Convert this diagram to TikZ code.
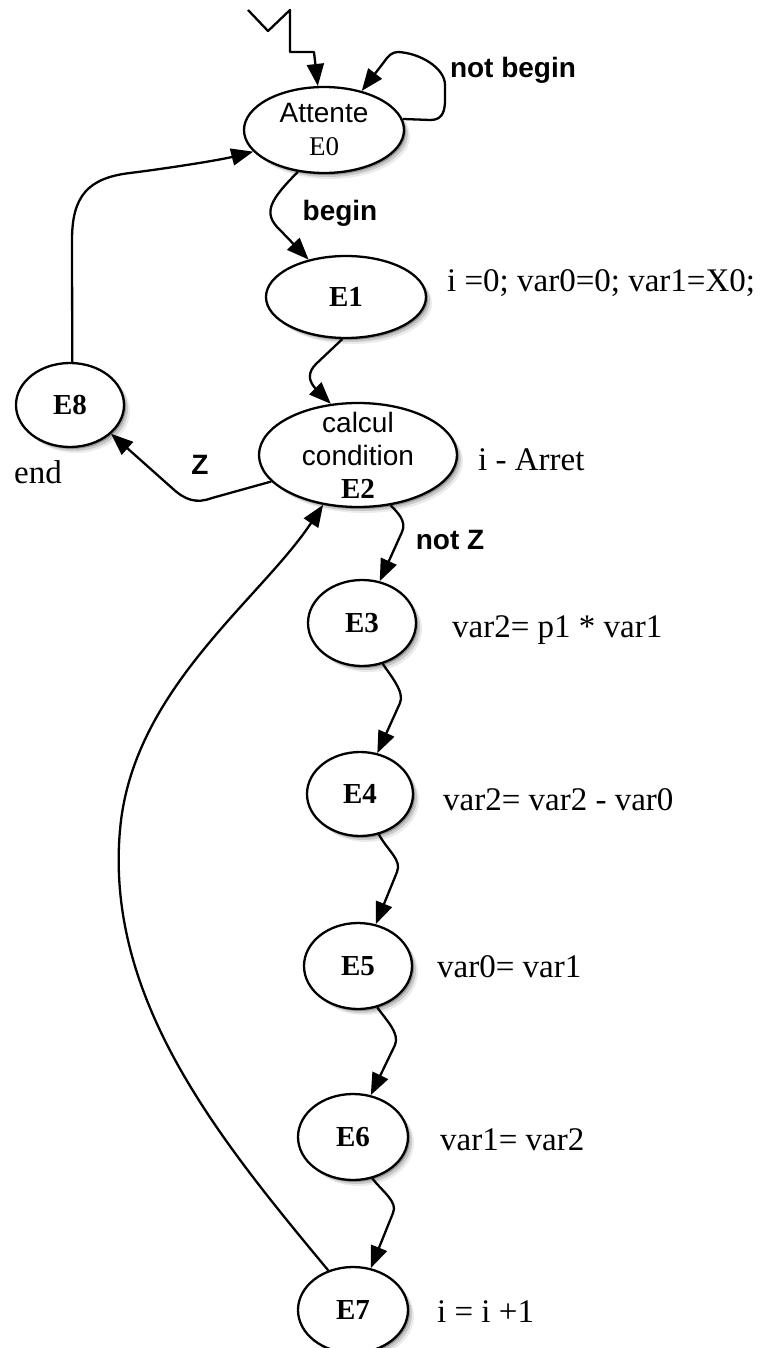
\documentclass[tikz,border=0pt]{standalone}
\usepackage{fontspec}
\setmainfont{Liberation Serif}
\newfontfamily\sansf{Liberation Sans}
\usetikzlibrary{shapes.geometric, arrows.meta, shadows}

\tikzset{
  state/.style={ellipse, draw, line width=2.3pt, fill=white, inner sep=0pt, align=center,
    general shadow={fill=black, opacity=0.08, shadow xshift=6pt, shadow yshift=-6pt},
    general shadow={fill=black, opacity=0.14, shadow xshift=4pt, shadow yshift=-4pt},
    general shadow={fill=black, opacity=0.25, shadow xshift=2pt, shadow yshift=-2pt},
    font=\rmfamily\bfseries\fontsize{29}{33}\selectfont},
  conn/.style={line width=2.3pt, line join=round, -{Triangle[length=22pt, width=17pt]}},
  guard/.style={inner sep=0pt, font=\sansf\bfseries\fontsize{28}{33}\selectfont},
  action/.style={inner sep=0pt, anchor=west, font=\rmfamily\fontsize{33}{38}\selectfont},
}

\begin{document}
\begin{tikzpicture}[x=1pt, y=-1pt]
\useasboundingbox (0,0) rectangle (763,1348);
\clip (0,0) rectangle (763,1348);

% states
\node[state, minimum width=160, minimum height=86, font=\sansf\fontsize{28}{33}\selectfont]
  (E0) at (324,130) {Attente\\{\rmfamily\fontsize{27}{33}\selectfont E0}};
\node[state, minimum width=160, minimum height=82] (E1) at (346,297) {E1};
\node[state, minimum width=108, minimum height=84] (E8) at (70,405) {E8};
\node[state, minimum width=198, minimum height=104,
  label={[align=center, inner sep=0pt, font=\sansf\fontsize{28}{33}\selectfont]center:calcul\\condition\\{\rmfamily\bfseries\fontsize{29}{33}\selectfont E2}}]
  (E2) at (358,455) {};
\node[state, minimum width=108, minimum height=86] (E3) at (362,623) {E3};
\node[state, minimum width=106, minimum height=84] (E4) at (360,794) {E4};
\node[state, minimum width=108, minimum height=86] (E5) at (358,966) {E5};
\node[state, minimum width=110, minimum height=86] (E6) at (353,1137) {E6};
\node[state, minimum width=110, minimum height=86] (E7) at (353,1310) {E7};

% actions beside the states
\node[action] (a1) at (447,283) {i =0; var0=0; var1=X0;};
\node[action] (a2) at (478,460) {i - Arret};
\node[action] (a3) at (452,630) {var2= p1 * var1};
\node[action] (a4) at (443,800) {var2= var2 - var0};
\node[action] (a5) at (437,967) {var0= var1};
\node[action] (a6) at (440,1140) {var1= var2};
\node[action] (a7) at (437,1312) {i = i +1};
\node[inner sep=0pt, font=\rmfamily\fontsize{33}{38}\selectfont] (aend) at (38,472) {end};

% guards
\node[guard] (gnb) at (513,70) {not begin};
\node[guard] (gb) at (340,213) {begin};
\node[guard] (gz) at (200,465) {Z};
\node[guard] (gnz) at (450,540) {not Z};

% initial transition
\coordinate (init) at (248,10);
\draw[conn] (init) -- (268,31) -- (290,10) -- (290,52) -- (314,52) -- (E0.98);

% self loop on the waiting state
\draw[conn] (E0.8) -- (430,120) .. controls (440,120) and (445,115) .. (445,100)
  -- (445,85) .. controls (445,68) and (420,53) .. (398,52)
  .. controls (392,52) and (388,56) .. (384,62) -- (E0.46);

% E0 -> E1
\draw[conn] (E0.238) .. controls (270,200) and (262,213) .. (280,230) -- (E1.135);

% E1 -> E2
\draw[conn] (E1.265) -- (316,364) .. controls (308,372) and (308,380) .. (315,388) -- (E2.118);

% E2 -> E8
\draw[conn] (E2.197) -- (212,498) .. controls (196,504) and (185,500) .. (172,488) -- (E8.325);

% E8 -> E0
\draw[conn] (E8.87) -- (72,240) .. controls (72,196) and (88,178) .. (130,173)
  .. controls (170,168) and (220,160) .. (E0.197);

% chain E2 -> E3 -> ... -> E7
\draw[conn] (E2.303) .. controls (397,512) and (407,521) .. (402,532) -- (E3.67);
\draw[conn] (E3.297) .. controls (390,675) and (405,692) .. (400,703) -- (E4.67);
\draw[conn] (E4.295) .. controls (388,851) and (402,860) .. (397,872) -- (E5.67);
\draw[conn] (E5.295) .. controls (386,1020) and (400,1033) .. (395,1045) -- (E6.67);
\draw[conn] (E6.295) .. controls (383,1192) and (398,1202) .. (393,1213) -- (E7.67);

% E7 -> E2
\draw[conn] (E7.122) .. controls (220,1140) and (105,1000) .. (120,830)
  .. controls (132,690) and (260,600) .. (E2.235);

\end{tikzpicture}
\end{document}
